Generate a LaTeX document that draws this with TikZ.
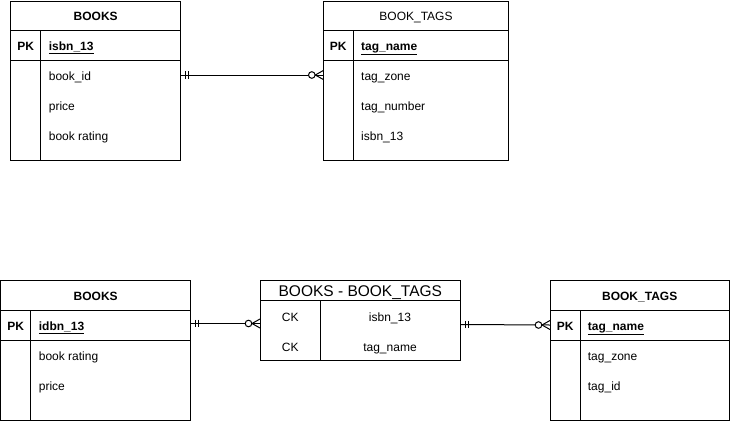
\documentclass[tikz,border=0pt]{standalone}
\usepackage{fontspec}
\setmainfont{Liberation Sans}
\begin{document}
\begin{tikzpicture}[x=1pt,y=-1pt,
  tbl/.style={draw, line width=1pt, rectangle, anchor=north west, inner sep=0pt, outer sep=0pt},
  ln/.style={line width=1pt},
  conn/.style={draw, line width=1pt},
  txt/.style={inner sep=0pt, text height=8.6pt, text depth=0pt, yshift=-0.7pt},
  ttl/.style={txt, font=\fontsize{12}{14}\selectfont\bfseries},
  ttlr/.style={txt, font=\fontsize{12}{14}\selectfont},
  ttlbig/.style={inner sep=0pt, text height=11.1pt, text depth=0pt, font=\fontsize{15.5}{18}\selectfont},
  key/.style={txt, font=\fontsize{12}{14}\selectfont\bfseries},
  fld/.style={txt, font=\fontsize{12}{14}\selectfont, anchor=west},
  pkfld/.style={txt, font=\fontsize{12}{14}\selectfont\bfseries, anchor=west},
  ckfld/.style={txt, font=\fontsize{12}{14}\selectfont, yshift=0pt},
  one/.pic={\draw[line width=1pt] (4.5,-3.7) -- (4.5,3.7) (8,-3.7) -- (8,3.7);},
  many/.pic={\draw[line width=1pt] (-8,0) -- (0,-4.5) (-8,0) -- (0,4.5);
             \draw[line width=1pt, fill=white] (-11.5,0) circle (3.3);}
]
\useasboundingbox (0,0) rectangle (731,421);

% ---------- top-left BOOKS ----------
\node[tbl, minimum width=170pt, minimum height=159.3pt] (b1) at (10.7,1) {};
\draw[ln] (10.7,30.3) -- (180.7,30.3);
\draw[ln] (10.7,60.3) -- (180.7,60.3);
\draw[ln] (40.7,30.3) -- (40.7,160.3);
\node[ttl] (b1t) at (95.7,15.7) {BOOKS};
\node[key] (b1k) at (25.7,45) {PK};
\node[pkfld] (b1p) at (48.7,45) {\underline{isbn\_13}};
\node[fld] (b1f1) at (48.7,75) {book\_id};
\node[fld] (b1f2) at (48.7,105) {price};
\node[fld] (b1f3) at (48.7,135) {book rating};

% ---------- top-right BOOK_TAGS ----------
\node[tbl, minimum width=185.4pt, minimum height=159.3pt] (t1) at (323.3,1) {};
\draw[ln] (323.3,30.7) -- (508.7,30.7);
\draw[ln] (323.3,60.7) -- (508.7,60.7);
\draw[ln] (353.3,30.7) -- (353.3,160.3);
\node[ttlr] (t1t) at (416,15.7) {BOOK\_TAGS};
\node[key] (t1k) at (338.3,45) {PK};
\node[pkfld] (t1p) at (361,45) {\underline{tag\_name}};
\node[fld] (t1f1) at (361,75) {tag\_zone};
\node[fld] (t1f2) at (361,105) {tag\_number};
\node[fld] (t1f3) at (361,135) {isbn\_13};

% ---------- bottom-left BOOKS ----------
\node[tbl, minimum width=190pt, minimum height=139.7pt] (b2) at (0.7,280.3) {};
\draw[ln] (0.7,310.7) -- (190.7,310.7);
\draw[ln] (0.7,340.3) -- (190.7,340.3);
\draw[ln] (30.7,310.7) -- (30.7,420);
\node[ttl] (b2t) at (95.7,295.5) {BOOKS};
\node[key] (b2k) at (15.7,325) {PK};
\node[pkfld] (b2p) at (38.7,325) {\underline{idbn\_13}};
\node[fld] (b2f1) at (38.7,355) {book rating};
\node[fld] (b2f2) at (38.7,385) {price};

% ---------- middle BOOKS - BOOK_TAGS ----------
\node[tbl, minimum width=200.7pt, minimum height=79.7pt] (m) at (260,280.3) {};
\draw[ln] (260,300.7) -- (460.7,300.7);
\draw[ln] (320.7,300.7) -- (320.7,360);
\node[ttlbig] (mt) at (360.3,290.8) {BOOKS - BOOK\_TAGS};
\node[ckfld] (mk1) at (290.3,316.7) {CK};
\node[ckfld] (mk2) at (290.3,346.2) {CK};
\node[ckfld] (mf1) at (390,316.7) {isbn\_13};
\node[ckfld] (mf2) at (390,346.2) {tag\_name};

% ---------- bottom-right BOOK_TAGS ----------
\node[tbl, minimum width=179.3pt, minimum height=139.7pt] (t2) at (550,280.3) {};
\draw[ln] (550,310.7) -- (729.3,310.7);
\draw[ln] (550,340.3) -- (729.3,340.3);
\draw[ln] (580.7,310.7) -- (580.7,420);
\node[ttl] (t2t) at (639.7,295.5) {BOOK\_TAGS};
\node[key] (t2k) at (565.3,325) {PK};
\node[pkfld] (t2p) at (587.7,325) {\underline{tag\_name}};
\node[fld] (t2f1) at (587.7,355) {tag\_zone};
\node[fld] (t2f2) at (587.7,385) {tag\_id};

% ---------- connectors ----------
\coordinate (c1s) at (b1.east |- 0,75);
\coordinate (c1e) at (t1.west |- 0,75);
\draw[conn] (c1s) -- (c1e);
\path (c1s) pic {one};
\path (c1e) pic {many};

\coordinate (c2s) at (b2.east |- 0,323.5);
\coordinate (c2e) at (m.west |- 0,323.5);
\draw[conn] (c2s) -- (c2e);
\path (c2s) pic {one};
\path (c2e) pic {many};

\coordinate (c3s) at (m.east |- 0,324.5);
\coordinate (c3e) at (t2.west |- 0,325);
\draw[conn] (c3s) -- (c3e);
\path (c3s) pic {one};
\path (c3e) pic {many};
\end{tikzpicture}
\end{document}
